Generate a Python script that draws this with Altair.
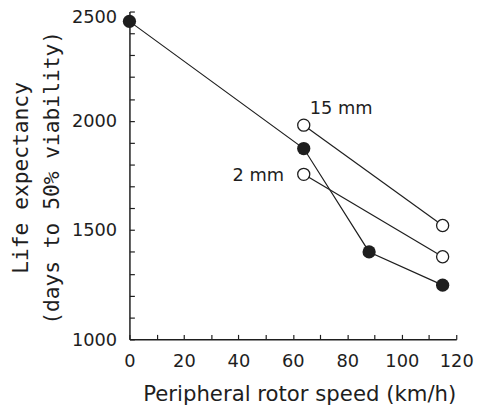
import altair as alt
import pandas as pd

# --- data ---
series_solid_speed = [0, 64, 88, 115]
series_solid_life = [2455, 1873, 1400, 1248]
series_15_speed = [64, 115]
series_15_life = [1980, 1521]
series_2_speed = [64, 115]
series_2_life = [1755, 1378]

label_text = ["15 mm", "2 mm"]
label_speed = [64, 64]
label_life = [1980, 1755]

x_tick_all = [0, 10, 20, 30, 40, 50, 60, 70, 80, 90, 100, 110, 120]
y_tick_all = [1000, 1100, 1200, 1300, 1400, 1500, 1600, 1700, 1800, 1900,
              2000, 2100, 2200, 2300, 2400, 2500]

rows = []
for s, xs, ys in [("solid", series_solid_speed, series_solid_life),
                  ("15 mm", series_15_speed, series_15_life),
                  ("2 mm", series_2_speed, series_2_life)]:
    for xv, yv in zip(xs, ys):
        rows.append({"series": s, "speed": xv, "life": yv})
df = pd.DataFrame(rows)
df_lab = pd.DataFrame({"text": label_text, "speed": label_speed, "life": label_life})

INK = "#1e1e1e"
FONT = "DejaVu Sans"
W, H = 331, 332
TS = 5

xscale = alt.Scale(domain=[0, 120], nice=False, zero=False)
yscale = alt.Scale(domain=[1000, 2500], nice=False, zero=False)

# axes drawn on the far side and pulled back onto the plot edge so ticks point inward
x_axis = alt.Axis(
    orient="top", offset=-H, values=x_tick_all, grid=False, format="d",
    labelExpr="datum.value % 20 === 0 ? datum.label : ''",
    ticks=True, tickSize=TS, tickColor=INK, tickWidth=1.2,
    domainColor=INK, domainWidth=1.5,
    labelFont=FONT, labelFontSize=18, labelColor=INK, labelPadding=-(TS + 14),
    labelBaseline="top", labelFlush=False, labelOverlap=False, labelBound=False,
    title="Peripheral rotor speed (km/h)", titleFont=FONT, titleFontSize=21.5,
    titleFontWeight="normal", titleColor=INK,
    titleX=172, titleY=62, titleBaseline="alphabetic", titleAnchor="middle",
)
y_axis = alt.Axis(
    orient="right", offset=-W, values=y_tick_all, grid=False, format="d",
    labelExpr="datum.value % 500 === 0 ? datum.label : ''",
    ticks=True, tickSize=TS, tickColor=INK, tickWidth=1.2,
    domainColor=INK, domainWidth=1.5,
    labelFont=FONT, labelFontSize=18, labelColor=INK, labelPadding=-(TS + 13),
    labelAlign="right", labelOverlap=False, labelBound=False,
    labelOffset={"condition": {"test": "datum.value === 2500", "value": 6}, "value": 1},
    title=["Life expectancy", "(days to 50% viability)"],
    titleFont="DejaVu Sans Mono", titleFontSize=21.5, titleFontWeight="normal",
    titleColor=INK, titleLineHeight=31.5,
    titleX=-103, titleY=168, titleBaseline="alphabetic", titleAlign="center",
    titleAngle=270,
)

X = alt.X("speed:Q", scale=xscale, axis=x_axis)
Y = alt.Y("life:Q", scale=yscale, axis=y_axis)

base = alt.Chart(df)

lines = base.mark_line(color=INK, strokeWidth=1.2).encode(
    x=X, y=Y, detail="series:N", order="speed:Q",
)

pts_solid = base.transform_filter(alt.datum.series == "solid").mark_circle(
    color=INK, opacity=1, size=180
).encode(x=X, y=Y)

pts_open = base.transform_filter(alt.datum.series != "solid").mark_circle(
    fill="white", stroke=INK, strokeWidth=1.3, opacity=1, size=150
).encode(x=X, y=Y)

lab_15 = alt.Chart(df_lab).transform_filter(alt.datum.text == "15 mm").mark_text(
    font=FONT, fontSize=18, color=INK, align="left", baseline="middle", dx=6, dy=-16
).encode(x=X, y=Y, text="text:N")

lab_2 = alt.Chart(df_lab).transform_filter(alt.datum.text == "2 mm").mark_text(
    font=FONT, fontSize=18, color=INK, align="right", baseline="middle", dx=-20, dy=2
).encode(x=X, y=Y, text="text:N")

chart = alt.layer(
    lines, pts_solid, pts_open, lab_15, lab_2,
).properties(
    width=W, height=H,
    autosize=alt.AutoSizeParams(type="none"),
    padding={"left": 123, "top": 1, "right": 20, "bottom": 70},
    background="white",
).configure_view(stroke=None)

chart.save("out.html", embed_options={"renderer": "svg", "actions": False})
